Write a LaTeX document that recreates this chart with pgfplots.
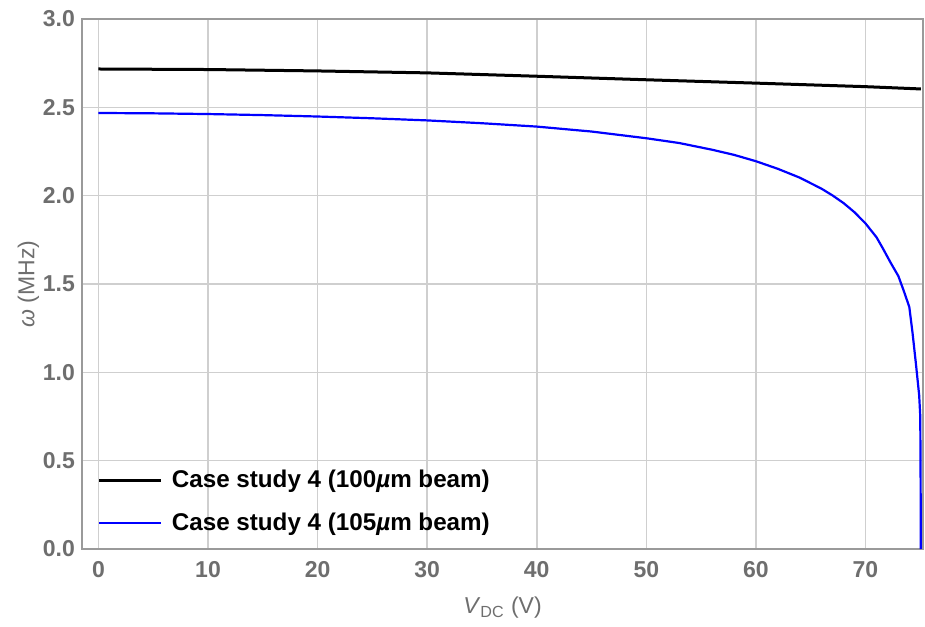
\documentclass[border=0pt]{standalone}
\usepackage{pgfplots}
\pgfplotsset{compat=1.18}
\usepackage{fontspec}
\setmainfont{Liberation Sans}
\definecolor{tickgray}{HTML}{6E6E6E}
\definecolor{framegray}{HTML}{9A9A9A}
\definecolor{gridgray}{HTML}{CFCFCF}
\definecolor{myblue}{HTML}{0000FF}
\begin{document}
\begin{tikzpicture}[x=1pt,y=1pt]
\path[use as bounding box] (-41,-38.5) rectangle (421.5,274.5);
\begin{axis}[
  scale only axis,
  width=420.5pt, height=265pt,
  at={(0,0)}, anchor=south west,
  xmin=-1.5, xmax=75.25,
  ymin=0, ymax=3,
  xtick={0,10,...,70},
  ytick={0,0.5,...,3},
  yticklabel style={/pgf/number format/fixed, /pgf/number format/fixed zerofill, /pgf/number format/precision=1},
  xticklabel style={yshift=-2.5pt},
  /pgf/number format/assume math mode=true,
  ticklabel style={font=\fontsize{11.5}{13}\selectfont\bfseries, text=tickgray},
  major tick length=0pt,
  grid=major,
  major grid style={gridgray, line width=0.8pt},
  axis line style={framegray, line width=0.6pt},
  xlabel={\textit{V}\textsubscript{DC} (V)},
  ylabel={\textit{ω} (MHz)},
  label style={font=\fontsize{11.5}{13}\selectfont, text=tickgray},
  xlabel style={yshift=-3pt},
  ylabel style={yshift=-5pt},
  legend style={at={(0.0115,0.0143)}, anchor=south west, draw=none, fill=none,
    font=\fontsize{12.1}{14}\selectfont\bfseries, row sep=7pt, column sep=2.5pt},
  legend cell align=left,
  legend image code/.code={\draw[#1] (0pt,0pt) -- (31pt,0pt);},
]
\addplot[black, line width=1.5pt, legend image post style={line width=1.4pt}] coordinates {
(0,2.717) (10,2.714) (20,2.706) (30,2.695) (40,2.676) (50,2.656) (60,2.637) (70,2.617) (75.05,2.604)
};
\addlegendentry{Case study 4 (100\textit{µ}m beam)}
\addplot[myblue, line width=1.1pt, legend image post style={line width=0.9pt}] coordinates {
(0,2.468) (5,2.466) (10,2.462) (15,2.456) (20,2.448) (25,2.438) (30,2.426) (35,2.410) (40,2.391)
(45,2.363) (50,2.325) (53,2.298) (56,2.260) (58,2.231) (60,2.195) (62,2.152) (64,2.102) (66,2.039)
(67,2.001) (68,1.958) (69,1.906) (70,1.843) (71,1.765) (71.6,1.700) (72.3,1.620) (73,1.545) (73.5,1.46)
(74,1.37) (74.3,1.22) (74.6,1.05) (74.9,0.87) (75.0,0.75) (75.03,0.40) (75.05,0.0)
};
\addlegendentry{Case study 4 (105\textit{µ}m beam)}
\end{axis}
\end{tikzpicture}
\end{document}
